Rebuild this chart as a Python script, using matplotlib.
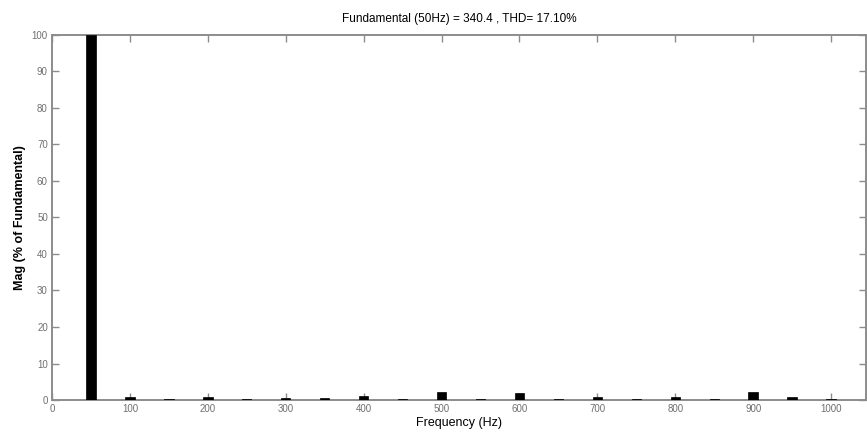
import matplotlib
matplotlib.use("Agg")
import matplotlib.pyplot as plt

# harmonic spectrum, magnitude in % of the 50 Hz fundamental
freqs = [50, 100, 150, 200, 250, 300, 350, 400, 450, 500,
         550, 600, 650, 700, 750, 800, 850, 900, 950, 1000]
mags = [100, 0.8, 0.3, 0.7, 0.3, 0.6, 0.6, 1.2, 0.3, 2.3,
        0.3, 1.8, 0.3, 0.8, 0.3, 0.8, 0.3, 2.1, 0.9, 0.2]
xticks = list(range(0, 1001, 100))
yticks = list(range(0, 101, 10))

plt.rcParams['font.family'] = ['Liberation Sans', 'DejaVu Sans']

fig = plt.figure(figsize=(8.67, 4.42), dpi=100)
ax = fig.add_axes([0.060, 0.095, 0.939, 0.826])

ax.bar(freqs, mags, width=12, color='black', edgecolor='black', linewidth=0.5, zorder=3)

ax.set_xlim(0, 1045)
ax.set_ylim(0, 100)
ax.set_xticks(xticks)
ax.set_yticks(yticks)

grey = '#8c8c8c'
for s in ax.spines.values():
    s.set_color(grey)
    s.set_linewidth(1.4)
ax.tick_params(direction='in', top=True, right=True, length=5, width=1,
               color=grey, labelcolor='#707070', labelsize=7, pad=3)

ax.set_title('Fundamental (50Hz) = 340.4 , THD= 17.10%', fontsize=8.5, pad=9)
ax.set_xlabel('Frequency (Hz)', fontsize=9, labelpad=2)
ax.set_ylabel('Mag (% of Fundamental)', fontsize=9, fontweight='bold', labelpad=4)

fig.savefig('out.png', dpi=100)
